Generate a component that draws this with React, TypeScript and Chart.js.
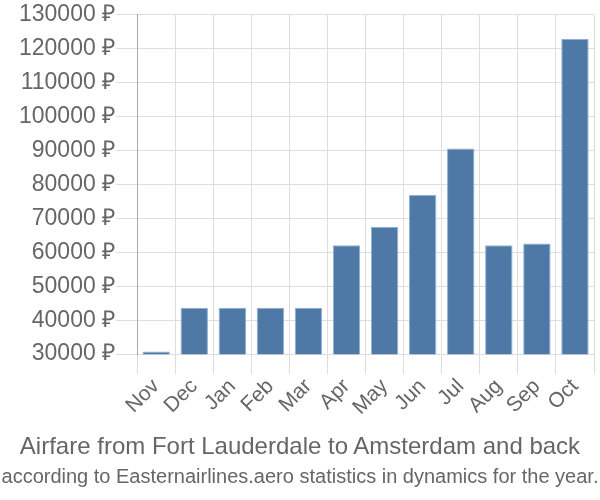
import React, { useEffect, useRef } from "react";
import { Chart, registerables } from "chart.js";

Chart.register(...registerables);

const months = ["Nov", "Dec", "Jan", "Feb", "Mar", "Apr", "May", "Jun", "Jul", "Aug", "Sep", "Oct"];
const prices = [30800, 43700, 43700, 43700, 43700, 62100, 67500, 76900, 90600, 62100, 62600, 122900];
const yMin = 30000;
const yMax = 130000;
const yStep = 10000;
const titleText = "Airfare from Fort Lauderdale to Amsterdam and back";
const subtitleText = "according to Easternairlines.aero statistics in dynamics for the year.";

const font = "'Liberation Sans', Arial, sans-serif";

export default function App() {
  const ref = useRef<HTMLCanvasElement | null>(null);
  useEffect(() => {
    if (!ref.current) return;
    const chart = new Chart(ref.current, {
      type: "bar",
      data: {
        labels: months,
        datasets: [
          {
            data: prices,
            backgroundColor: "#4e79a7",
            borderColor: "#8fb0d3",
            borderWidth: 1,
          },
        ],
      },
      options: {
        animation: false,
        responsive: false,
        layout: { padding: { left: 18, right: 6, top: 4, bottom: 80 } },
        plugins: {
          legend: { display: false },
          tooltip: { enabled: false },
          title: { display: false },
        },
        scales: {
          x: {
            grid: { color: "#ddd", tickLength: 20, offset: true },
            border: { color: "#ddd" },
            ticks: {
              color: "#666",
              font: { family: font, size: 21 },
              minRotation: 45,
              maxRotation: 45,
              autoSkip: false,
              padding: 0,
            },
          },
          y: {
            min: yMin,
            max: yMax,
            grid: { color: "#ddd", tickLength: 21 },
            border: { color: "#aaa" },
            ticks: {
              stepSize: yStep,
              color: "#666",
              font: { family: font, size: 23 },
              padding: 1,
              callback: (v: any) => `${v} ₽`,
            },
          },
        },
      },
    });
    return () => chart.destroy();
  }, []);
  return (
    <div style={{ position: "fixed", left: 0, top: 0, width: 600, height: 500, background: "#fff" }}>
      <canvas ref={ref} width={600} height={500} style={{ display: "block" }} />
      <div
        style={{
          position: "absolute",
          left: 0,
          width: 600,
          top: 431,
          textAlign: "center",
          fontFamily: font,
          fontSize: 24,
          lineHeight: "30px",
          color: "#666",
          whiteSpace: "nowrap",
        }}
      >
        {titleText}
      </div>
      <div
        style={{
          position: "absolute",
          left: 0,
          width: 600,
          top: 462,
          textAlign: "center",
          fontFamily: font,
          fontSize: 20,
          lineHeight: "28px",
          color: "#666",
          whiteSpace: "nowrap",
        }}
      >
        {subtitleText}
      </div>
    </div>
  );
}
